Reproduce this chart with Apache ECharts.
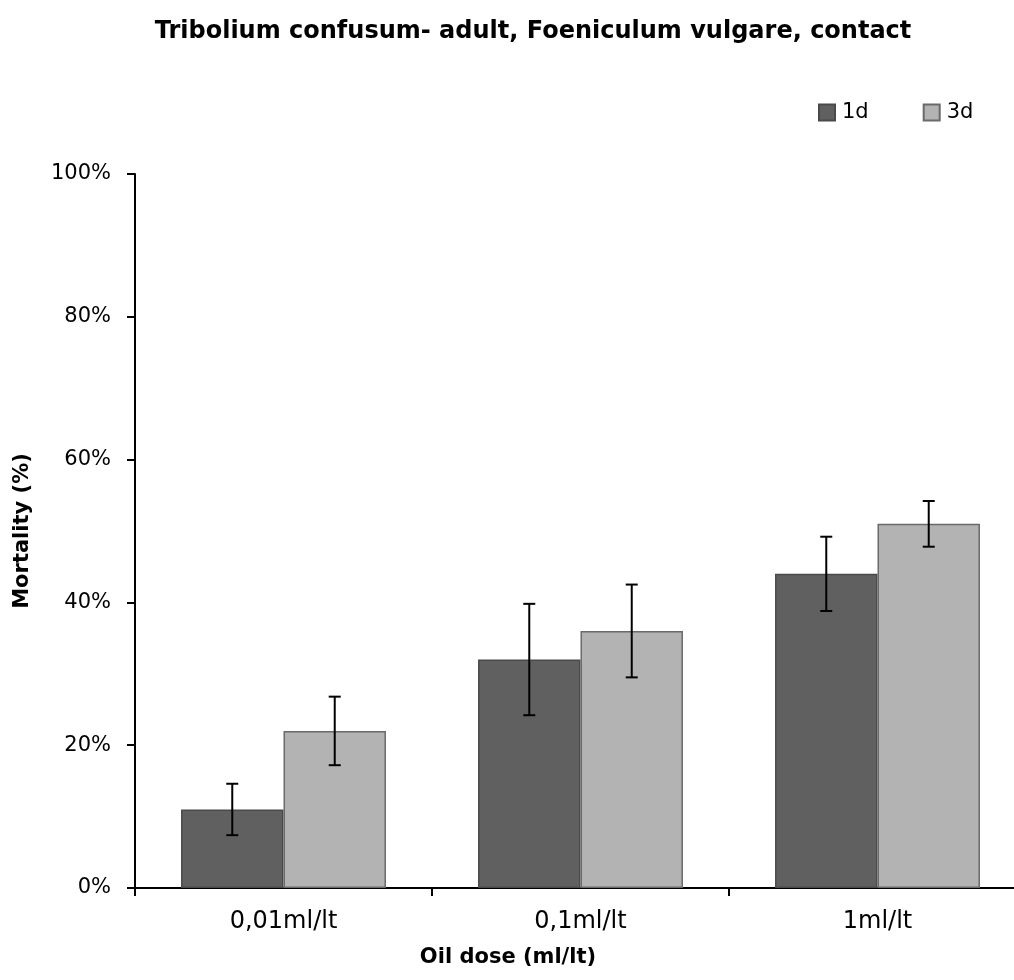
<!DOCTYPE html>
<html>
<head>
<meta charset="utf-8">
<script src="https://cdn.jsdelivr.net/npm/echarts@6/dist/echarts.min.js"></script>
<style>
  html, body { margin: 0; padding: 0; background: #fff; overflow: hidden; }
  #chart { width: 1030px; height: 980px; }
</style>
</head>
<body>
<div id="chart"></div>
<script>
// Mortality of adult Tribolium confusum after contact with Foeniculum vulgare oil
const categories = ['0,01ml/lt', '0,1ml/lt', '1ml/lt'];
const seriesNames = ['1d', '3d'];
const mortality1d = [11, 32, 44];
const mortality3d = [22, 36, 51];
const error1d = [3.6, 7.8, 5.2];
const error3d = [4.8, 6.5, 3.2];
const yTicks = [0, 20, 40, 60, 80, 100];

const FONT = '"DejaVu Sans", "Liberation Sans", sans-serif';
const CAT_GAP = 0.31;

function errorSeries(values, errors, side) {
  return {
    type: 'custom',
    name: side < 0 ? seriesNames[0] + ' err' : seriesNames[1] + ' err',
    z: 10,
    silent: true,
    data: values.map((v, i) => [i, v, errors[i]]),
    renderItem: function (params, api) {
      const band = api.size([1, 0])[0];
      const barW = band * (1 - CAT_GAP) / 2;
      const c = api.value(0);
      const v = api.value(1);
      const e = api.value(2);
      const hi = api.coord([c, v + e]);
      const lo = api.coord([c, v - e]);
      const x = hi[0] + side * barW / 2;
      const cap = 6;
      const style = { stroke: '#000', lineWidth: 2 };
      return {
        type: 'group',
        children: [
          { type: 'line', shape: { x1: x, y1: hi[1], x2: x, y2: lo[1] }, style },
          { type: 'line', shape: { x1: x - cap, y1: hi[1], x2: x + cap, y2: hi[1] }, style },
          { type: 'line', shape: { x1: x - cap, y1: lo[1], x2: x + cap, y2: lo[1] }, style }
        ]
      };
    }
  };
}

const chart = echarts.init(document.getElementById('chart'), null, { renderer: 'canvas' });
chart.setOption({
  animation: false,
  backgroundColor: '#fff',
  textStyle: { fontFamily: FONT },
  graphic: [
    {
      type: 'text',
      x: 533, y: 32,
      style: {
        text: 'Tribolium confusum- adult, Foeniculum vulgare, contact',
        font: 'bold 24px ' + FONT, fill: '#000', align: 'center', verticalAlign: 'middle'
      }
    },
    {
      type: 'text',
      x: 508, y: 958,
      style: { text: 'Oil dose (ml/lt)', font: 'bold 21px ' + FONT, fill: '#000', align: 'center', verticalAlign: 'middle' }
    },
    {
      type: 'text',
      x: 23, y: 531,
      rotation: Math.PI / 2,
      style: { text: 'Mortality (%)', font: 'bold 21px ' + FONT, fill: '#000', align: 'center', verticalAlign: 'middle' }
    }
  ],
  legend: {
    data: seriesNames,
    left: 813,
    top: 97,
    itemWidth: 16,
    itemHeight: 16,
    itemGap: 54,
    icon: 'rect',
    textStyle: { fontFamily: FONT, fontSize: 21, color: '#000', padding: [0, 0, 0, 2] }
  },
  grid: { left: 135, width: 891, top: 174, height: 714, containLabel: false },
  xAxis: {
    type: 'category',
    data: categories,
    axisLine: { lineStyle: { color: '#000', width: 2 } },
    axisTick: { show: true, length: 8, lineStyle: { color: '#000', width: 2 } },
    axisLabel: { color: '#000', fontSize: 24, fontFamily: FONT, margin: 22 }
  },
  yAxis: {
    type: 'value',
    min: yTicks[0],
    max: yTicks[yTicks.length - 1],
    interval: yTicks[1] - yTicks[0],
    axisLine: { show: true, lineStyle: { color: '#000', width: 2 } },
    axisTick: { show: true, length: 8, lineStyle: { color: '#000', width: 2 } },
    axisLabel: { color: '#000', fontSize: 21, fontFamily: FONT, margin: 24, formatter: '{value}%' },
    splitLine: { show: false }
  },
  series: [
    {
      name: seriesNames[0],
      type: 'bar',
      data: mortality1d,
      barGap: '0%',
      barCategoryGap: (CAT_GAP * 100) + '%',
      itemStyle: { color: '#606060', borderColor: '#4a4a4a', borderWidth: 1.5 }
    },
    {
      name: seriesNames[1],
      type: 'bar',
      data: mortality3d,
      barGap: '0%',
      barCategoryGap: (CAT_GAP * 100) + '%',
      itemStyle: { color: '#b3b3b3', borderColor: '#6a6a6a', borderWidth: 1.5 }
    },
    errorSeries(mortality1d, error1d, -1),
    errorSeries(mortality3d, error3d, 1)
  ]
});
</script>
</body>
</html>
